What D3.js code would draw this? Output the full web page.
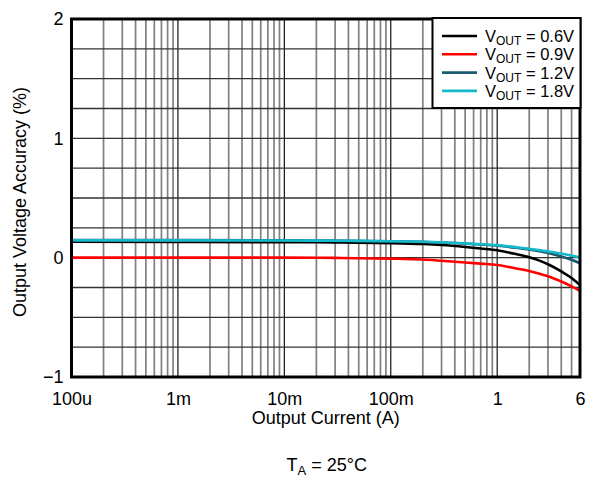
<!DOCTYPE html>
<html><head><meta charset="utf-8">
<script src="https://cdn.jsdelivr.net/npm/d3@7"></script>
<style>body{margin:0;background:#fff}svg{display:block;font-family:"Liberation Sans",Arial,sans-serif}</style>
</head><body><svg id="c" width="593" height="477"></svg>
<script>
const current = [1e-4, 1e-3, 1e-2, 0.03, 0.1, 0.2, 0.3, 0.5, 0.7, 1, 1.5, 2, 2.5, 3, 4, 5, 6];
const v06 = [0.133, 0.132, 0.130, 0.128, 0.122, 0.114, 0.106, 0.090, 0.077, 0.062, 0.030, 0.003, -0.025, -0.055, -0.115, -0.170, -0.230];
const v09 = [0.000, 0.000, 0.000, -0.002, -0.008, -0.016, -0.026, -0.040, -0.050, -0.062, -0.090, -0.112, -0.135, -0.155, -0.200, -0.240, -0.278];
const v12 = [0.148, 0.147, 0.145, 0.143, 0.138, 0.132, 0.127, 0.118, 0.110, 0.100, 0.083, 0.068, 0.054, 0.040, 0.010, -0.018, -0.047];
const v18 = [0.145, 0.145, 0.144, 0.142, 0.138, 0.133, 0.129, 0.120, 0.113, 0.105, 0.088, 0.075, 0.063, 0.053, 0.035, 0.017, 0.000];
const seriesNames = ["0.6V", "0.9V", "1.2V", "1.8V"];
const seriesColors = ["#000000", "#ff0000", "#1b5a70", "#14b9cc"];
const xTickValues = [1e-4, 1e-3, 1e-2, 1e-1, 1, 6];
const xTickLabels = ["100u", "1m", "10m", "100m", "1", "6"];
const yTickValues = [-1, 0, 1, 2];
const xTitle = "Output Current (A)";
const yTitle = "Output Voltage Accuracy (%)";

const series = [v06, v09, v12, v18];
const svg = d3.select("#c");
const L = 71.5, R = 580, T = 19, B = 377;
const FS = 18;
const x = d3.scaleLog().domain([1e-4, 6]).range([L, R]);
const y = d3.scaleLinear().domain([-1, 2]).range([B, T]);

// vertical grid
const minor = [];
for (let d = -4; d <= 0; d++) for (let k = 2; k <= 9; k++) { const v = k * Math.pow(10, d); if (v < 6) minor.push(v); }
svg.append("g").selectAll("line").data(minor).join("line")
  .attr("x1", d => x(d)).attr("x2", d => x(d)).attr("y1", T).attr("y2", B)
  .attr("stroke", "#808080").attr("stroke-width", 1.7);
svg.append("g").selectAll("line").data([1e-3, 1e-2, 1e-1, 1]).join("line")
  .attr("x1", d => x(d)).attr("x2", d => x(d)).attr("y1", T).attr("y2", B)
  .attr("stroke", "#111").attr("stroke-width", 1.2);
// horizontal grid
const hg = d3.range(-1, 2.001, 0.25);
svg.append("g").selectAll("line").data(hg).join("line")
  .attr("x1", L).attr("x2", R).attr("y1", d => y(d)).attr("y2", d => y(d))
  .attr("stroke", "#333").attr("stroke-width", 1.3);

// lines
const line = d3.line().x((d, i) => x(current[i])).y(d => y(d)).curve(d3.curveMonotoneX);
svg.append("clipPath").attr("id", "pc").append("rect").attr("x", L).attr("y", T).attr("width", R - L).attr("height", B - T);
svg.append("g").attr("clip-path", "url(#pc)").selectAll("path").data(series).join("path")
  .attr("d", d => line(d)).attr("fill", "none")
  .attr("stroke", (d, i) => seriesColors[i]).attr("stroke-width", 2.6);

// frame
svg.append("rect").attr("x", L).attr("y", T).attr("width", R - L).attr("height", B - T)
  .attr("fill", "none").attr("stroke", "#000").attr("stroke-width", 3);

// axes labels
const xa = svg.append("g").attr("transform", `translate(0,${B})`)
  .call(d3.axisBottom(x).tickValues(xTickValues).tickFormat((d, i) => xTickLabels[i]).tickSize(0).tickPadding(15));
xa.select(".domain").remove();
xa.selectAll("text").attr("font-size", FS).attr("fill", "#000").attr("font-family", "Liberation Sans, Arial, sans-serif");
const ya = svg.append("g").attr("transform", `translate(${L},0)`)
  .call(d3.axisLeft(y).tickValues(yTickValues).tickFormat(d3.format("d")).tickSize(0).tickPadding(8));
ya.select(".domain").remove();
ya.selectAll("text").attr("font-size", FS).attr("fill", "#000").attr("font-family", "Liberation Sans, Arial, sans-serif");

svg.append("text").attr("x", (L + R) / 2).attr("y", 424).attr("text-anchor", "middle")
  .attr("font-size", FS).text(xTitle);
svg.append("text").attr("transform", `translate(26,${(T + B) / 2 + 4}) rotate(-90)`).attr("text-anchor", "middle")
  .attr("font-size", FS).text(yTitle);
const ta = svg.append("text").attr("x", (L + R) / 2 + 1).attr("y", 471).attr("text-anchor", "middle").attr("font-size", FS);
ta.append("tspan").text("T");
ta.append("tspan").attr("font-size", 13).attr("dy", 4).text("A");
ta.append("tspan").attr("dy", -4).text(" = 25°C");

// legend
const lg = svg.append("g");
lg.append("rect").attr("x", 432.5).attr("y", 18).attr("width", 148).attr("height", 90)
  .attr("fill", "#fff").attr("stroke", "#000").attr("stroke-width", 2);
seriesNames.forEach((n, i) => {
  const yy = 36 + i * 18.3;
  lg.append("line").attr("x1", 442).attr("x2", 477).attr("y1", yy).attr("y2", yy)
    .attr("stroke", seriesColors[i]).attr("stroke-width", 2.6);
  const t = lg.append("text").attr("x", 485).attr("y", yy + 6).attr("font-size", 16.5);
  t.append("tspan").text("V");
  t.append("tspan").attr("font-size", 12).attr("dy", 3).text("OUT");
  t.append("tspan").attr("dy", -3).text(" = " + n);
});
</script></body></html>
